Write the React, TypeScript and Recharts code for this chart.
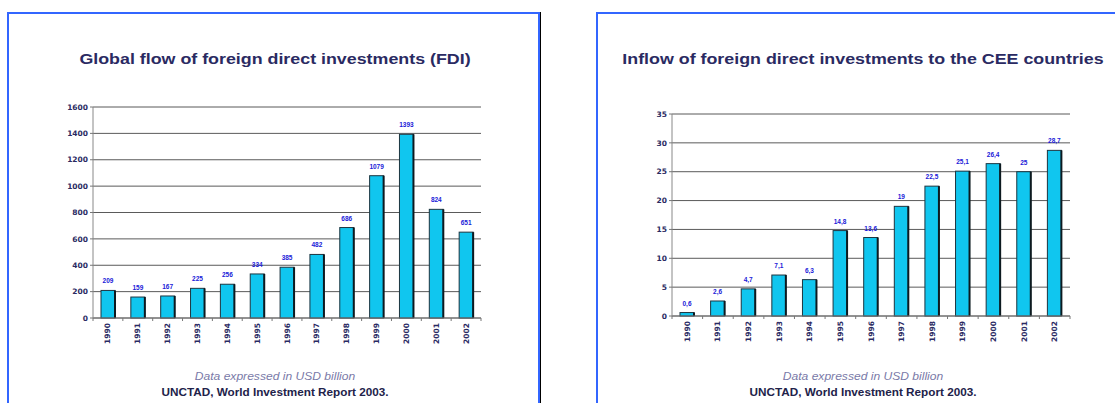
import { BarChart, Bar, XAxis, YAxis, CartesianGrid, LabelList, ReferenceLine } from "recharts"

const years = ["1990", "1991", "1992", "1993", "1994", "1995", "1996", "1997", "1998", "1999", "2000", "2001", "2002"]

// global FDI flow, USD billion
const globalFlow = [209, 159, 167, 225, 256, 334, 385, 482, 686, 1079, 1393, 824, 651]
const globalTicks = [0, 200, 400, 600, 800, 1000, 1200, 1400, 1600]

// inflow to CEE countries, USD billion
const ceeInflow = [0.6, 2.6, 4.7, 7.1, 6.3, 14.8, 13.6, 19, 22.5, 25.1, 26.4, 25, 28.7]
const ceeLabels = ["0,6", "2,6", "4,7", "7,1", "6,3", "14,8", "13,6", "19", "22,5", "25,1", "26,4", "25", "28,7"]
const ceeTicks = [0, 5, 10, 15, 20, 25, 30, 35]

const globalData = years.map((y, i) => ({ year: y, value: globalFlow[i], label: String(globalFlow[i]) }))
const ceeData = years.map((y, i) => ({ year: y, value: ceeInflow[i], label: ceeLabels[i] }))

const BLUE = "#3366ff"
const NAVY = "#2a2a62"
const CYAN = "#10c6ef"

const BarShape = (props: any) => {
  const { x, y, width, height } = props
  if (height <= 0) return null
  return (
    <g>
      <rect x={x} y={y} width={width} height={height} fill={CYAN} stroke="#1d3540" strokeWidth={1} />
      <line x1={x + width} x2={x + width} y1={y} y2={y + height} stroke="#0d1a20" strokeWidth={2} />
    </g>
  )
}

const YearTick = (props: any) => {
  const { x, y, payload, index, visibleTicksCount } = props
  const half = payload?.offset ?? 15
  const last = index === visibleTicksCount - 1
  return (
    <g>
      <line x1={x - half} x2={x - half} y1={y} y2={y + 3} stroke="#777" />
      {last && <line x1={x + half} x2={x + half} y1={y} y2={y + 3} stroke="#777" />}
      <text
        x={x}
        y={y + 5}
        transform={`rotate(-90 ${x} ${y + 5})`}
        textAnchor="end"
        dominantBaseline="central"
        fontSize={7.5}
        fontWeight="bold"
        fontFamily="DejaVu Sans"
        fill={NAVY}
      >
        {payload.value}
      </text>
    </g>
  )
}

const tickStyle = { fontSize: 7.5, fontWeight: "bold", fontFamily: "DejaVu Sans", fill: NAVY }

function Panel({ left, width }: { left: number; width: number }) {
  return (
    <div
      style={{
        position: "absolute",
        left,
        top: 12,
        width,
        height: 420,
        border: `2px solid ${BLUE}`,
        boxShadow: "1px 0 0 #000",
        boxSizing: "border-box",
      }}
    />
  )
}

function Caption({ center, title }: { center: number; title: string }) {
  return (
    <>
      <div
        style={{
          position: "absolute",
          left: center - 300,
          width: 600,
          top: 50,
          textAlign: "center",
          fontFamily: "Liberation Sans, Arial",
          fontWeight: "bold",
          fontSize: 15.5,
          color: NAVY,
          whiteSpace: "nowrap",
          transform: "scaleX(1.15)",
        }}
      >
        {title}
      </div>
      <div
        style={{
          position: "absolute",
          left: center - 200,
          width: 400,
          top: 370,
          textAlign: "center",
          fontFamily: "Liberation Sans, Arial",
          fontStyle: "italic",
          fontSize: 11.5,
          color: "#7a7aa8",
          transform: "scaleX(1.05)",
        }}
      >
        Data expressed in USD billion
      </div>
      <div
        style={{
          position: "absolute",
          left: center - 200,
          width: 400,
          top: 386,
          textAlign: "center",
          fontFamily: "Liberation Sans, Arial",
          fontWeight: "bold",
          fontSize: 11.5,
          color: "#22224a",
          transform: "scaleX(1.02)",
        }}
      >
        UNCTAD, World Investment Report 2003.
      </div>
    </>
  )
}

function FdiChart({ data, ticks, max, width, margin, yWidth }: any) {
  return (
    <BarChart width={width} height={360} data={data} margin={margin}>
      <CartesianGrid vertical={false} stroke="#5a5a5a" strokeWidth={1} />
      <ReferenceLine y={max} stroke="#aaa" />
      <XAxis
        dataKey="year"
        tick={<YearTick />}
        tickLine={false}
        tickSize={0}
        tickMargin={0}
        interval={0}
        height={30}
        axisLine={{ stroke: "#777" }}
      />
      <YAxis
        domain={[0, max]}
        ticks={ticks}
        width={yWidth}
        tick={tickStyle}
        tickSize={3}
        tickMargin={2}
        tickLine={{ stroke: "#777" }}
        axisLine={{ stroke: "#888" }}
        interval={0}
      />
      <YAxis yAxisId="r" orientation="right" domain={[0, max]} width={0} tick={false} tickLine={false} axisLine={{ stroke: "#999" }} />
      <Bar dataKey="value" barSize={14} shape={<BarShape />} isAnimationActive={false}>
        <LabelList
          dataKey="label"
          position="top"
          offset={7}
          fontSize={6.5}
          fontWeight="bold"
          fontFamily="Liberation Sans, Arial"
          fill="#2020d8"
        />
      </Bar>
    </BarChart>
  )
}

export default function App() {
  return (
    <div style={{ position: "fixed", left: 0, top: 0, width: 1115, height: 403, background: "#fff", overflow: "hidden" }}>
      <Panel left={7} width={533} />
      <Panel left={596} width={560} />
      <Caption center={275} title="Global flow of foreign direct investments (FDI)" />
      <Caption center={863} title="Inflow of foreign direct investments to the CEE countries" />
      <div style={{ position: "absolute", left: 0, top: 0 }}>
        <FdiChart
          data={globalData}
          ticks={globalTicks}
          max={1600}
          width={540}
          yWidth={93}
          margin={{ top: 107, right: 59, left: 0, bottom: 12 }}
        />
      </div>
      <div style={{ position: "absolute", left: 600, top: 0 }}>
        <FdiChart
          data={ceeData}
          ticks={ceeTicks}
          max={35}
          width={515}
          yWidth={72}
          margin={{ top: 114, right: 45, left: 0, bottom: 14 }}
        />
      </div>
    </div>
  )
}
